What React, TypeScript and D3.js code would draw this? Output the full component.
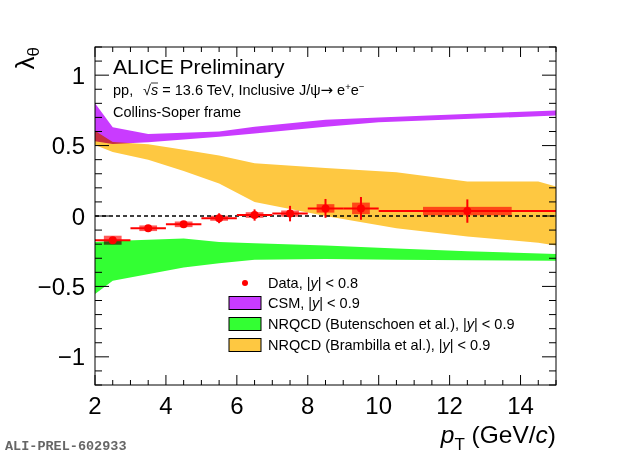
import React from 'react'
import * as d3 from 'd3'

// measured J/psi polarisation, Collins-Soper frame
const binLow = [2, 3, 4, 5, 6, 7, 8, 9, 10]
const binHigh = [3, 4, 5, 6, 7, 8, 9, 10, 15]
const ptCenter = [2.5, 3.5, 4.5, 5.5, 6.5, 7.5, 8.5, 9.5, 12.5]
const lambdaTheta = [-0.172, -0.087, -0.059, -0.016, 0.007, 0.017, 0.054, 0.054, 0.035]
const statErr = [0.018, 0.016, 0.018, 0.035, 0.04, 0.055, 0.067, 0.081, 0.083]
const sysErr = [0.032, 0.02, 0.02, 0.018, 0.02, 0.022, 0.03, 0.041, 0.03]

// CSM band
const csmPt = [2, 2.5, 3.5, 5.5, 6.5, 8.5, 10, 15]
const csmLo = [0.53, 0.512, 0.524, 0.562, 0.585, 0.633, 0.665, 0.713]
const csmHi = [0.8, 0.63, 0.583, 0.6, 0.633, 0.684, 0.7, 0.75]

// NRQCD Butenschoen et al.
const butPt = [2, 2.5, 4.5, 5.5, 6.5, 8.5, 10.5, 12.5, 15]
const butLo = [-0.554, -0.46, -0.365, -0.335, -0.31, -0.306, -0.31, -0.315, -0.318]
const butHi = [-0.184, -0.177, -0.16, -0.185, -0.193, -0.21, -0.23, -0.25, -0.27]

// NRQCD Brambilla et al.
const bramPt = [2, 2.5, 3.5, 4.5, 5.5, 6.5, 8.5, 10.5, 12.5, 14.5, 15]
const bramLo = [0.505, 0.455, 0.4, 0.32, 0.23, 0.1, 0.0, -0.087, -0.146, -0.19, -0.21]
const bramHi = [0.605, 0.525, 0.51, 0.47, 0.43, 0.375, 0.34, 0.31, 0.245, 0.245, 0.21]

const xMajor = [2, 4, 6, 8, 10, 12, 14]
const xTickLabels = ['2', '4', '6', '8', '10', '12', '14']
const yMajor = [-1, -0.5, 0, 0.5, 1]
const yTickLabels = ['\u22121', '\u22120.5', '0', '0.5', '1']

const legendLabels = [
  'CSM, |y| < 0.9',
  'NRQCD (Butenschoen et al.), |y| < 0.9',
  'NRQCD (Brambilla et al.), |y| < 0.9',
]

const W = 620
const H = 456
const frame = { left: 95, right: 556, top: 47, bottom: 385 }
const font = '"Liberation Sans", Arial, Helvetica, sans-serif'

const PURPLE = '#c93bff'
const GREEN = '#33ff33'
const ORANGE = '#fec841'

export default function App() {
  const x = d3.scaleLinear().domain([2, 15]).range([frame.left, frame.right])
  const y = d3.scaleLinear().domain([-1.2, 1.2]).range([frame.bottom, frame.top])

  const band = (pt: number[], lo: number[], hi: number[]) =>
    d3.area<number>()
      .x(i => x(pt[i]))
      .y0(i => y(lo[i]))
      .y1(i => y(hi[i]))(d3.range(pt.length)) || ''

  const xMinor = d3.range(4, 31).map(i => i / 2).filter(v => !xMajor.includes(v))
  const yMinor = d3.range(-12, 13).map(i => i / 10).filter(v => !yMajor.some(m => Math.abs(m - v) < 1e-9))

  const legendRows = [283, 303, 324, 345]
  const legendColors = [PURPLE, GREEN, ORANGE]

  return (
    <svg width={W} height={H} style={{ position: 'absolute', left: 0, top: 0, background: '#fff' }} fontFamily={font}>
      <rect x={0} y={0} width={W} height={H} fill="#fff" />

      {/* theory bands */}
      <path d={band(csmPt, csmLo, csmHi)} fill={PURPLE} />
      <path d={band(butPt, butLo, butHi)} fill={GREEN} />
      <path d={band(bramPt, bramLo, bramHi)} fill={ORANGE} style={{ mixBlendMode: 'multiply' }} />

      {/* zero line */}
      <line x1={x(2)} x2={x(15)} y1={y(0)} y2={y(0)} stroke="#000" strokeWidth={1.3} strokeDasharray="4 3" />

      {/* data */}
      {ptCenter.map((pt, i) => {
        const hw = (binHigh[i] - binLow[i]) / 4
        return (
          <rect key={'s' + i}
            x={x(pt - hw)} width={x(pt + hw) - x(pt - hw)}
            y={y(lambdaTheta[i] + sysErr[i])} height={y(lambdaTheta[i] - sysErr[i]) - y(lambdaTheta[i] + sysErr[i])}
            fill="#ff5a5a" style={{ mixBlendMode: 'multiply' }} />
        )
      })}
      {ptCenter.map((pt, i) => (
        <g key={'d' + i} stroke="#ff0000" strokeWidth={2}>
          <line x1={x(binLow[i])} x2={x(binHigh[i])} y1={y(lambdaTheta[i])} y2={y(lambdaTheta[i])} />
          <line x1={x(pt)} x2={x(pt)} y1={y(lambdaTheta[i] - statErr[i])} y2={y(lambdaTheta[i] + statErr[i])} />
          <circle cx={x(pt)} cy={y(lambdaTheta[i])} r={4} fill="#ff0000" stroke="none" />
        </g>
      ))}

      {/* frame and ticks */}
      <rect x={frame.left} y={frame.top} width={frame.right - frame.left} height={frame.bottom - frame.top}
        fill="none" stroke="#000" strokeWidth={1} />
      <g stroke="#000" strokeWidth={1}>
        {xMajor.map(v => (
          <g key={'xm' + v}>
            <line x1={x(v)} x2={x(v)} y1={frame.bottom} y2={frame.bottom - 10} />
            <line x1={x(v)} x2={x(v)} y1={frame.top} y2={frame.top + 10} />
          </g>
        ))}
        {xMinor.map(v => (
          <g key={'xn' + v}>
            <line x1={x(v)} x2={x(v)} y1={frame.bottom} y2={frame.bottom - 5} />
            <line x1={x(v)} x2={x(v)} y1={frame.top} y2={frame.top + 5} />
          </g>
        ))}
        {yMajor.map(v => (
          <g key={'ym' + v}>
            <line x1={frame.left} x2={frame.left + 14} y1={y(v)} y2={y(v)} />
            <line x1={frame.right} x2={frame.right - 14} y1={y(v)} y2={y(v)} />
          </g>
        ))}
        {yMinor.map(v => (
          <g key={'yn' + v}>
            <line x1={frame.left} x2={frame.left + 7} y1={y(v)} y2={y(v)} />
            <line x1={frame.right} x2={frame.right - 7} y1={y(v)} y2={y(v)} />
          </g>
        ))}
      </g>

      {/* tick labels */}
      {xMajor.map((v, i) => (
        <text key={'xl' + v} x={x(v)} y={414} textAnchor="middle" fontSize={24}>{xTickLabels[i]}</text>
      ))}
      {yMajor.map((v, i) => (
        <text key={'yl' + v} x={85} y={y(v) + 8.5} textAnchor="end" fontSize={24}>{yTickLabels[i]}</text>
      ))}

      {/* axis titles */}
      <text x={frame.right} y={443} textAnchor="end" fontSize={24.5}>
        <tspan fontStyle="italic">p</tspan>
        <tspan dy={7} fontSize={17}>T</tspan>
        <tspan dy={-7}> (GeV/</tspan>
        <tspan fontStyle="italic">c</tspan>
        <tspan>)</tspan>
      </text>
      <text transform={`translate(34,${frame.top}) rotate(-90)`} textAnchor="end" fontSize={26}>
        {'\u03bb'}<tspan dy={5} fontSize={17}>{'\u03b8'}</tspan>
      </text>

      {/* header */}
      <text x={113} y={74} fontSize={21}>ALICE Preliminary</text>
      <text x={113} y={95} fontSize={14.5}>
        <tspan>pp,</tspan>
        <tspan x={143}>{'\u221a'}</tspan>
        <tspan fontStyle="italic">s</tspan>
        <tspan> = 13.6 TeV, Inclusive J/{'\u03c8'}</tspan>
        <tspan fontFamily='"DejaVu Sans", sans-serif' fontSize={15}>{'\u2192'}</tspan>
        <tspan> e</tspan>
        <tspan dy={-5} fontSize={9.5}>+</tspan>
        <tspan dy={5}>e</tspan>
        <tspan dy={-5} fontSize={9.5}>{'\u2212'}</tspan>
      </text>
      <line x1={151} x2={158} y1={83} y2={83} stroke="#000" strokeWidth={0.8} />
      <text x={113} y={117} fontSize={14.5}>Collins-Soper frame</text>

      {/* legend */}
      <circle cx={245} cy={legendRows[0]} r={3} fill="#ff0000" />
      <text x={268} y={legendRows[0] + 5} fontSize={14.5}>
        Data, |<tspan fontStyle="italic">y</tspan>| &lt; 0.8
      </text>
      {legendLabels.map((lab, i) => {
        const parts = lab.split('y')
        return (
          <g key={'lg' + i}>
            <rect x={229} y={legendRows[i + 1] - 6.5} width={32} height={13} fill={legendColors[i]} stroke="#000" strokeWidth={1} />
            <text x={268} y={legendRows[i + 1] + 5} fontSize={14.5}>
              {parts[0]}<tspan fontStyle="italic">y</tspan>{parts.slice(1).join('y')}
            </text>
          </g>
        )
      })}

      <text x={5} y={450} fontSize={13.5} fontWeight="bold" fill="#666"
        fontFamily='"Liberation Mono", "DejaVu Sans Mono", monospace'>ALI-PREL-602933</text>
    </svg>
  )
}
